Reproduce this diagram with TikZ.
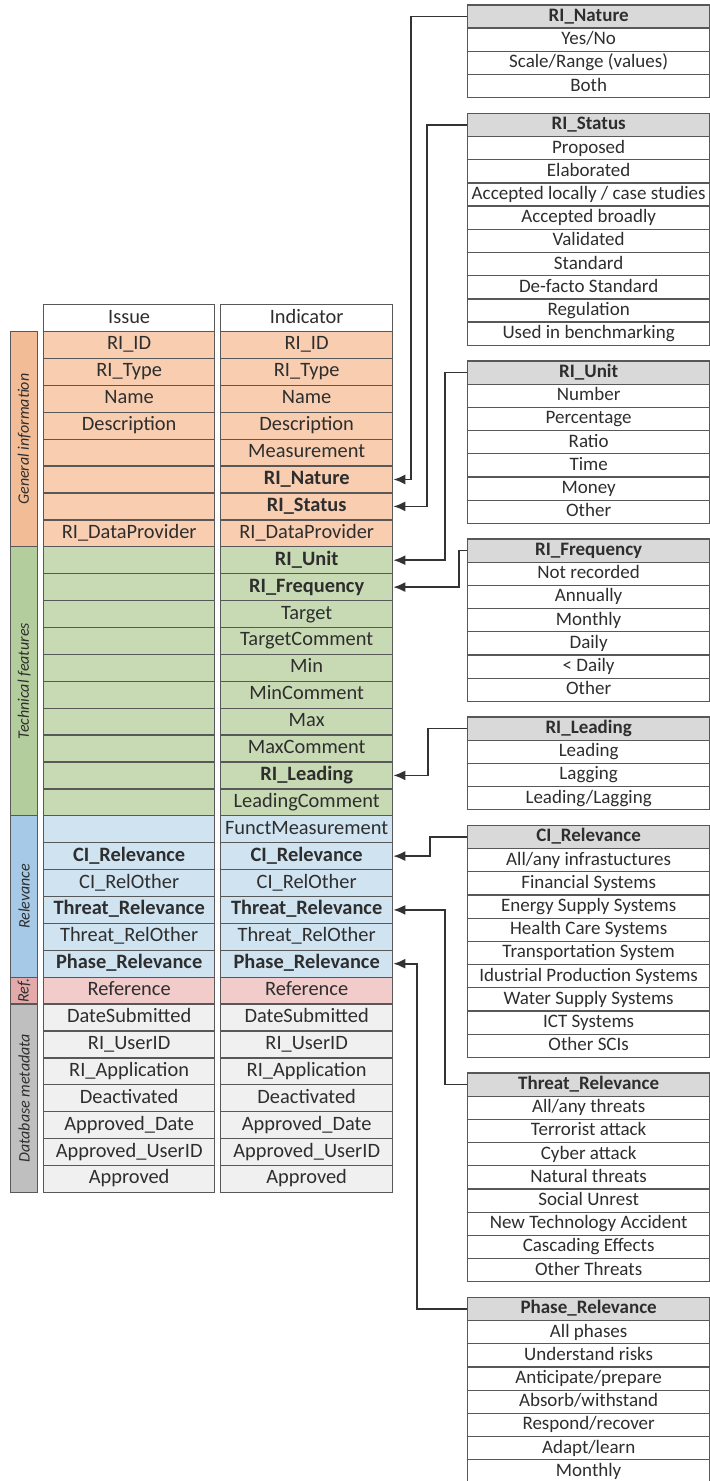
\documentclass[tikz,border=0pt]{standalone}
\usepackage{fontspec}
\setmainfont{Carlito}
\usetikzlibrary{arrows.meta}

% palette
\definecolor{lineg}{HTML}{585858}
\definecolor{conng}{HTML}{333333}
\definecolor{txtg}{HTML}{2E2E2E}
\definecolor{headg}{HTML}{D9D9D9}
\definecolor{genrow}{HTML}{F8CDB0}
\definecolor{genband}{HTML}{F2BC96}
\definecolor{techrow}{HTML}{C8DAB4}
\definecolor{techband}{HTML}{B4CD9C}
\definecolor{relrow}{HTML}{CFE3F1}
\definecolor{relband}{HTML}{A5C9E6}
\definecolor{refrow}{HTML}{F2CBCB}
\definecolor{refband}{HTML}{E4AAAA}
\definecolor{dbrow}{HTML}{F0F0F0}
\definecolor{dbband}{HTML}{BFBFBF}

\tikzset{
  cellbase/.style={draw=lineg, line width=0.65pt, rectangle, inner sep=0pt,
    anchor=north west, text=txtg, align=center,
    text height=0.72em, text depth=0.22em},
  tcell/.style={cellbase, minimum height=13.45pt, font=\fontsize{10.2}{12}\selectfont},
  isscell/.style={tcell, minimum width=85.5pt},
  indcell/.style={tcell, minimum width=86pt},
  optcell/.style={cellbase, minimum width=121pt, minimum height=11.6pt,
    fill=white, font=\fontsize{9.5}{11}\selectfont},
  opthead/.style={fill=headg, font=\fontsize{9.5}{11}\selectfont\bfseries},
  band/.style={draw=lineg, line width=0.65pt, rectangle, inner sep=0pt,
    anchor=north west, minimum width=13.5pt},
  bandlabel/.style={rotate=90, text=txtg, inner sep=0pt,
    font=\fontsize{8}{9}\selectfont\itshape},
  conn/.style={draw=conng, line width=0.9pt, -{Latex[length=6pt,width=5pt]}}
}

% option table: name, top, header, entries
\newcommand\opttable[4]{%
  \node[optcell, opthead] (#1-0) at (467,#2) {#3};
  \foreach \t [count=\k] in {#4} {
    \node[optcell] (#1-\k) at (467,{#2+23.2*\k}) {\t};
  }
}

\begin{document}
\begin{tikzpicture}[x=0.5pt, y=-0.5pt]
\useasboundingbox (0,0) rectangle (710,1481);
\fill[white] (0,0) rectangle (710,1481);
\clip (0,0) rectangle (710,1481);

% category bands
\node[band, fill=genband,  minimum height=107.6pt] (bgen)  at (10,330.9) {};
\node[band, fill=techband, minimum height=134.5pt] (btech) at (10,546.1) {};
\node[band, fill=relband,  minimum height=80.7pt]  (brel)  at (10,815.1) {};
\node[band, fill=refband,  minimum height=13.45pt] (bref)  at (10,976.5) {};
\node[band, fill=dbband,   minimum height=94.15pt] (bdb)   at (10,1003.4) {};
\node[bandlabel] (lgen)  at (bgen.center)  {General information};
\node[bandlabel] (ltech) at (btech.center) {Technical features};
\node[bandlabel] (lrel)  at (brel.center)  {Relevance};
\node[bandlabel] (lref)  at (bref.center)  {Ref.};
\node[bandlabel] (ldb)   at (bdb.center)   {Database metadata};

% Issue and Indicator columns
\foreach \iss/\ind/\cf [count=\i from 0] in {
  Issue/Indicator/white,
  RI\_ID/RI\_ID/genrow,
  RI\_Type/RI\_Type/genrow,
  Name/Name/genrow,
  Description/Description/genrow,
  {}/Measurement/genrow,
  {}/\textbf{RI\_Nature}/genrow,
  {}/\textbf{RI\_Status}/genrow,
  RI\_DataProvider/RI\_DataProvider/genrow,
  {}/\textbf{RI\_Unit}/techrow,
  {}/\textbf{RI\_Frequency}/techrow,
  {}/Target/techrow,
  {}/TargetComment/techrow,
  {}/Min/techrow,
  {}/MinComment/techrow,
  {}/Max/techrow,
  {}/MaxComment/techrow,
  {}/\textbf{RI\_Leading}/techrow,
  {}/LeadingComment/techrow,
  {}/FunctMeasurement/relrow,
  \textbf{CI\_Relevance}/\textbf{CI\_Relevance}/relrow,
  CI\_RelOther/CI\_RelOther/relrow,
  \textbf{Threat\_Relevance}/\textbf{Threat\_Relevance}/relrow,
  Threat\_RelOther/Threat\_RelOther/relrow,
  \textbf{Phase\_Relevance}/\textbf{Phase\_Relevance}/relrow,
  Reference/Reference/refrow,
  DateSubmitted/DateSubmitted/dbrow,
  RI\_UserID/RI\_UserID/dbrow,
  RI\_Application/RI\_Application/dbrow,
  Deactivated/Deactivated/dbrow,
  Approved\_Date/Approved\_Date/dbrow,
  Approved\_UserID/Approved\_UserID/dbrow,
  Approved/Approved/dbrow}{
  \node[isscell, fill=\cf] (iss-\i) at (43,{304+26.9*\i}) {\iss};
  \node[indcell, fill=\cf] (ind-\i) at (220,{304+26.9*\i}) {\ind};
}

% value lists
\opttable{nat}{4.3}{RI\_Nature}{Yes/No,Scale/Range (values),Both}
\opttable{sta}{112.7}{RI\_Status}{Proposed,Elaborated,Accepted locally / case studies,Accepted broadly,Validated,Standard,De-facto Standard,Regulation,Used in benchmarking}
\opttable{uni}{360.3}{RI\_Unit}{Number,Percentage,Ratio,Time,Money,Other}
\opttable{fre}{538.3}{RI\_Frequency}{Not recorded,Annually,Monthly,Daily,< Daily,Other}
\opttable{lea}{716.3}{RI\_Leading}{Leading,Lagging,Leading/Lagging}
\opttable{cir}{824.7}{CI\_Relevance}{All/any infrastuctures,Financial Systems,Energy Supply Systems,Health Care Systems,Transportation System,Idustrial Production Systems,Water Supply Systems,ICT Systems,Other SCIs}
\opttable{thr}{1072.3}{Threat\_Relevance}{All/any threats,Terrorist attack,Cyber attack,Natural threats,Social Unrest,New Technology Accident,Cascading Effects,Other Threats}
\opttable{pha}{1296.7}{Phase\_Relevance}{All phases,Understand risks,Anticipate/prepare,Absorb/withstand,Respond/recover,Adapt/learn,Monthly}

% links from value lists to indicator fields
\draw[conn] (nat-0.west) -- ++(-56.3,0) |- (ind-6.east);
\draw[conn] (sta-0.west) -- ++(-40.3,0) |- (ind-7.east);
\draw[conn] (uni-0.west) -- ++(-22,0)   |- (ind-9.east);
\draw[conn] (fre-0.west) -- ++(-8,0)    |- (ind-10.east);
\draw[conn] (lea-0.west) -- ++(-38.7,0) |- (ind-17.east);
\draw[conn] (cir-0.west) -- ++(-37,0)   |- (ind-20.east);
\draw[conn] (thr-0.west) -- ++(-22,0)   |- (ind-22.east);
\draw[conn] (pha-0.west) -- ++(-50.3,0) |- (ind-24.east);
\end{tikzpicture}
\end{document}
